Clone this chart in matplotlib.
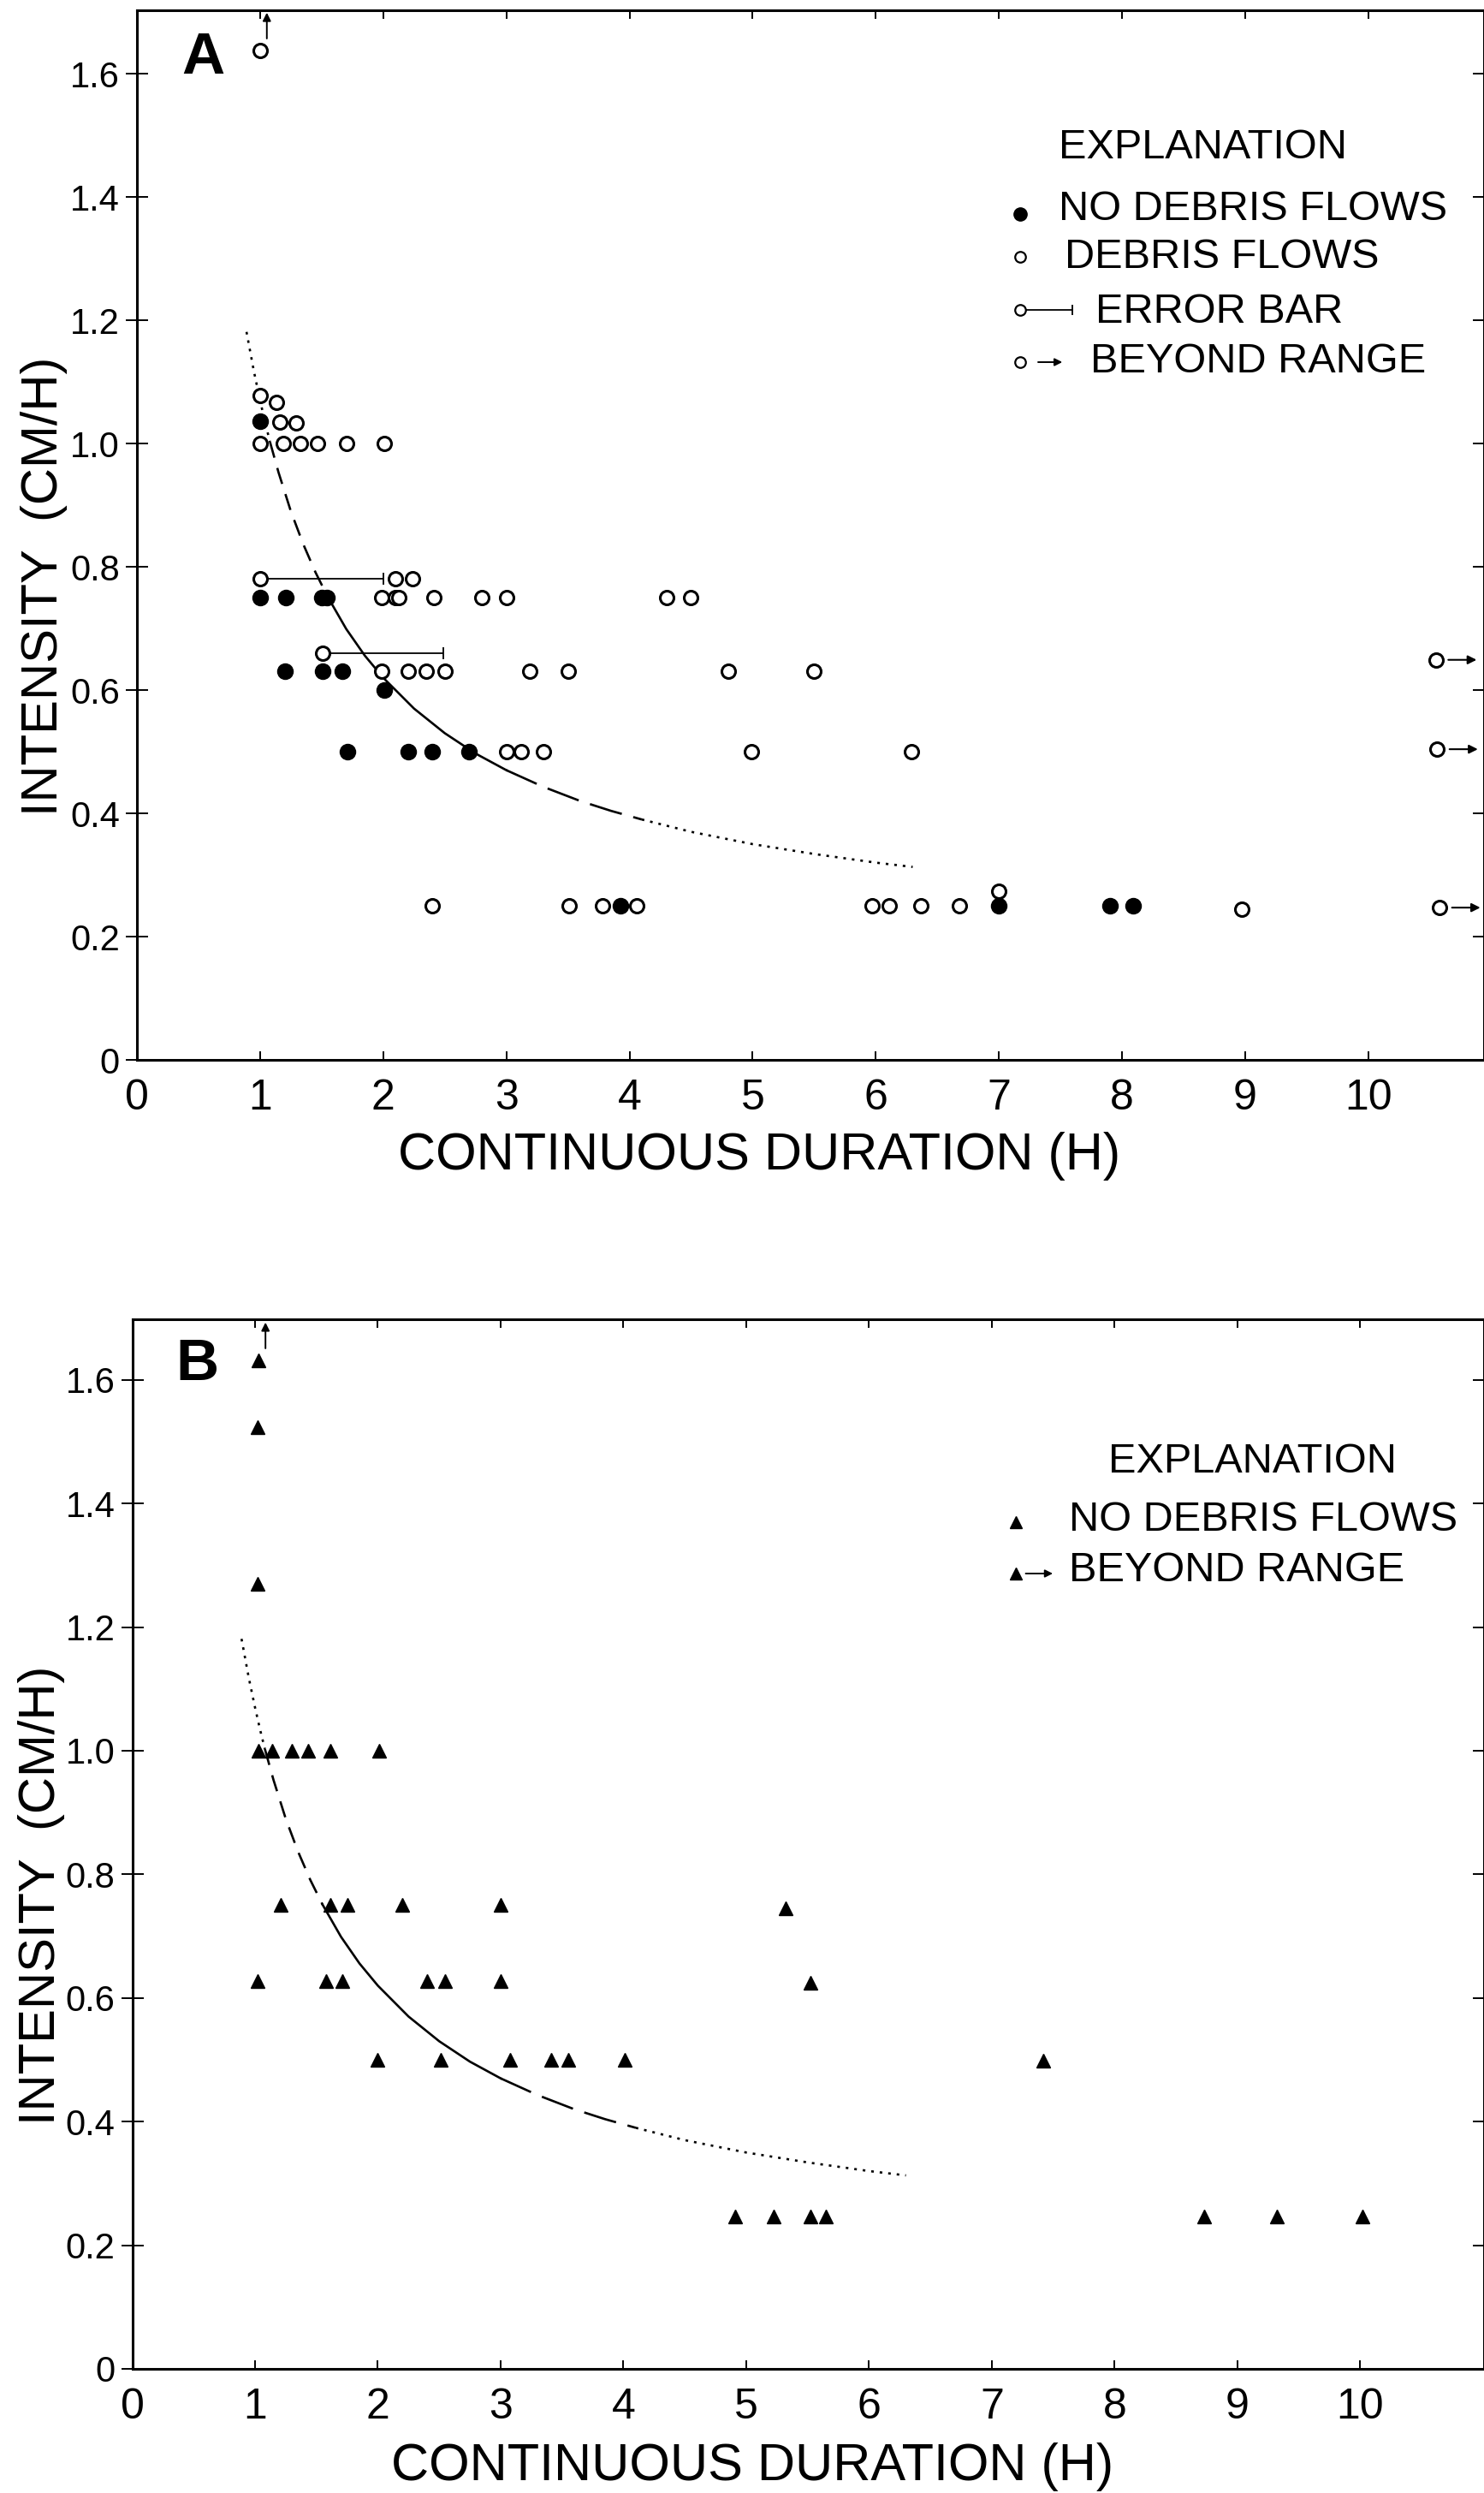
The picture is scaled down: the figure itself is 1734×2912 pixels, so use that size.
import matplotlib
matplotlib.use('Agg')
import matplotlib.pyplot as plt

plt.rcParams['font.family'] = ['Liberation Sans', 'DejaVu Sans']
plt.rcParams['lines.scale_dashes'] = False

# ---- panel A: storms with / without debris flows ----
flow_x = [1.0, 1.0, 1.13, 1.16, 1.29,
          1.0, 1.19, 1.33, 1.47, 1.70, 2.01,
          1.0, 2.10, 2.24,
          1.99, 2.10, 2.13, 2.41, 2.80, 3.0, 4.30, 4.50,
          1.51,
          1.99, 2.20, 2.35, 2.50, 3.19, 3.50, 4.80, 5.50,
          3.0, 3.12, 3.30, 4.99, 6.29,
          2.40, 3.51, 3.78, 4.06, 5.97, 6.11, 6.37, 6.68, 8.97, 7.0]
flow_y = [1.637, 1.078, 1.066, 1.035, 1.034,
          1.0, 1.0, 1.0, 1.0, 1.0, 1.0,
          0.78, 0.78, 0.78,
          0.75, 0.75, 0.75, 0.75, 0.75, 0.75, 0.75, 0.75,
          0.66,
          0.63, 0.63, 0.63, 0.63, 0.63, 0.63, 0.63, 0.63,
          0.50, 0.50, 0.50, 0.50, 0.50,
          0.25, 0.25, 0.25, 0.25, 0.25, 0.25, 0.25, 0.25, 0.245, 0.274]

noflow_x = [1.0, 1.0, 1.21, 1.50, 1.54, 1.20, 1.505, 1.67, 2.01,
            1.71, 2.20, 2.40, 2.70, 3.93, 7.0, 7.90, 8.09]
noflow_y = [1.036, 0.75, 0.75, 0.75, 0.75, 0.63, 0.63, 0.63, 0.60,
            0.50, 0.50, 0.50, 0.50, 0.25, 0.25, 0.25, 0.25]

err_x = [1.0, 1.51]
err_y = [0.78, 0.66]
err_end = [2.0, 2.49]

beyond_a_x = [10.55, 10.56, 10.58]
beyond_a_y = [0.649, 0.504, 0.247]
offtop_a_x = [1.0]
offtop_a_y = [1.637]

# ---- panel B: storms without debris flows ----
storm_x = [1.03, 1.02, 1.02,
           1.03, 1.14, 1.30, 1.43, 1.61, 2.01,
           1.21, 1.61, 1.75, 2.20, 3.0, 5.32,
           1.02, 1.58, 1.71, 2.40, 2.55, 3.0, 5.52,
           2.0, 2.51, 3.08, 3.41, 3.55, 4.01, 7.42,
           4.91, 5.22, 5.52, 5.65, 8.73, 9.32, 10.02]
storm_y = [1.631, 1.523, 1.270,
           1.0, 1.0, 1.0, 1.0, 1.0, 1.0,
           0.75, 0.75, 0.75, 0.75, 0.75, 0.745,
           0.627, 0.627, 0.627, 0.627, 0.627, 0.627, 0.625,
           0.50, 0.50, 0.50, 0.50, 0.50, 0.50, 0.498,
           0.247, 0.247, 0.247, 0.247, 0.247, 0.247, 0.247]
offtop_b_x = [1.03]
offtop_b_y = [1.631]

# threshold curve (same in both panels)
curve_d = [0.89, 0.95, 1.0, 1.04, 1.08, 1.15, 1.25, 1.35, 1.45, 1.55, 1.7, 1.85,
           2.0, 2.25, 2.5, 2.75, 3.0, 3.3, 3.6, 3.85, 4.1, 4.5, 5.0, 5.5, 6.0, 6.3]
curve_i = [1.181, 1.117, 1.07, 1.035, 1.003, 0.953, 0.89, 0.837, 0.791, 0.751, 0.699, 0.656,
           0.62, 0.57, 0.53, 0.497, 0.47, 0.443, 0.42, 0.404, 0.39, 0.37, 0.35, 0.334, 0.32, 0.313]
# (first index, last index, dash pattern)
curve_parts = [(0, 4, (2.2, 5)), (4, 9, (14, 9)), (9, 16, None), (16, 20, (28, 10)), (20, 25, (2.2, 5))]

y_ticks = [0, 0.2, 0.4, 0.6, 0.8, 1.0, 1.2, 1.4, 1.6]
y_labels = ['0', '0.2', '0.4', '0.6', '0.8', '1.0', '1.2', '1.4', '1.6']
x_ticks = list(range(0, 11))


def setup(ax, xmax, ymax):
    ax.set_xlim(0, xmax)
    ax.set_ylim(0, ymax)
    ax.set_xticks(x_ticks)
    ax.set_xticklabels([str(t) for t in x_ticks])
    ax.set_yticks(y_ticks)
    ax.set_yticklabels(y_labels)
    for s in ax.spines.values():
        s.set_linewidth(2.2)
    ax.tick_params(axis='x', direction='in', length=7, width=1.4, labelsize=36, pad=16, top=True)
    ax.tick_params(axis='y', direction='inout', length=19, width=1.4, labelsize=30, pad=5, right=True)
    ax.set_xlabel('CONTINUOUS DURATION (H)', fontsize=44)
    ax.set_ylabel('INTENSITY  (CM/H)', fontsize=43)


def draw_curve(ax):
    for a, b, dash in curve_parts:
        line, = ax.plot(curve_d[a:b + 1], curve_i[a:b + 1], color='black', lw=1.9, zorder=2)
        if dash is not None:
            line.set_dashes(dash)


def up_arrows(ax, xs, ys):
    for x, y in zip(xs, ys):
        ax.annotate('', xy=(x + 0.055, y + 0.062), xytext=(x + 0.055, y + 0.02),
                    arrowprops=dict(arrowstyle='-|>', color='black', lw=1.4,
                                    mutation_scale=14, shrinkA=0, shrinkB=0))


fig = plt.figure(figsize=(17.34, 29.12), dpi=100)

# ---------------- A ----------------
axA = fig.add_axes([160 / 1734, 1 - 1238 / 2912, 1574 / 1734, 1226.5 / 2912])
setup(axA, 10.94, 1.7035)
draw_curve(axA)
axA.errorbar(err_x, err_y, xerr=[[0] * len(err_x), [e - x for e, x in zip(err_end, err_x)]],
             fmt='none', ecolor='black', elinewidth=1.3, capsize=5, capthick=1.3, zorder=2)
axA.plot(flow_x, flow_y, 'o', ms=11.5, mfc='white', mec='black', mew=2.2, zorder=3)
axA.plot(noflow_x, noflow_y, 'o', ms=13, color='black', zorder=4)
axA.plot(beyond_a_x, beyond_a_y, 'o', ms=11.5, mfc='white', mec='black', mew=2.2, zorder=3)
for x, y in zip(beyond_a_x, beyond_a_y):
    axA.annotate('', xy=(x + 0.33, y), xytext=(x + 0.1, y),
                 arrowprops=dict(arrowstyle='-|>', color='black', lw=1.5,
                                 mutation_scale=15, shrinkA=0, shrinkB=0))
up_arrows(axA, offtop_a_x, offtop_a_y)
axA.xaxis.set_label_coords(0.462, -0.0685)
axA.yaxis.set_label_coords(-0.0515, 0.451)
axA.text(0.0334, 0.9393, 'A', transform=axA.transAxes, fontsize=50, fontweight='bold', va='baseline')

# explanation A
tA = axA.transAxes
axA.text(0.6843, 0.8585, 'EXPLANATION', transform=tA, fontsize=35, va='baseline')
axA.text(0.6845, 0.7998, 'NO DEBRIS FLOWS', transform=tA, fontsize=35, va='baseline')
axA.text(0.6884, 0.7542, 'DEBRIS FLOWS', transform=tA, fontsize=35, va='baseline')
axA.text(0.7116, 0.7020, 'ERROR BAR', transform=tA, fontsize=35, va='baseline')
axA.text(0.7078, 0.6547, 'BEYOND RANGE', transform=tA, fontsize=35, va='baseline')
axA.plot([0.6557], [0.8055], 'o', ms=11, color='black', transform=tA)
axA.plot([0.6557], [0.7648], 'o', ms=9, mfc='white', mec='black', mew=1.6, transform=tA)
axA.plot([0.6557, 0.6947], [0.7145, 0.7145], color='black', lw=1.3, transform=tA, zorder=2)
axA.plot([0.6947], [0.7145], '|', ms=8, mew=1.3, color='black', transform=tA)
axA.plot([0.6557], [0.7145], 'o', ms=9, mfc='white', mec='black', mew=1.6, transform=tA, zorder=3)
axA.plot([0.6557], [0.6645], 'o', ms=9, mfc='white', mec='black', mew=1.6, transform=tA)
axA.annotate('', xy=(0.687, 0.6645), xytext=(0.669, 0.6645), xycoords='axes fraction',
             arrowprops=dict(arrowstyle='-|>', color='black', lw=1.4,
                             mutation_scale=13, shrinkA=0, shrinkB=0))

# ---------------- B ----------------
axB = fig.add_axes([154.5 / 1734, 1 - 2767 / 2912, 1579.5 / 1734, 1225.6 / 2912])
setup(axB, 11.007, 1.6975)
draw_curve(axB)
axB.plot(storm_x, storm_y, '^', ms=11, color='black', zorder=3)
up_arrows(axB, offtop_b_x, offtop_b_y)
axB.xaxis.set_label_coords(0.459, -0.070)
axB.yaxis.set_label_coords(-0.0495, 0.451)
axB.text(0.0325, 0.9428, 'B', transform=axB.transAxes, fontsize=50, fontweight='bold', va='baseline')

tB = axB.transAxes
axB.text(0.722, 0.8543, 'EXPLANATION', transform=tB, fontsize=35, va='baseline')
axB.text(0.6928, 0.7988, 'NO DEBRIS FLOWS', transform=tB, fontsize=35, va='baseline')
axB.text(0.6928, 0.7507, 'BEYOND RANGE', transform=tB, fontsize=35, va='baseline')
axB.plot([0.6537], [0.807], '^', ms=10, color='black', transform=tB)
axB.plot([0.6537], [0.758], '^', ms=10, color='black', transform=tB)
axB.annotate('', xy=(0.681, 0.758), xytext=(0.661, 0.758), xycoords='axes fraction',
             arrowprops=dict(arrowstyle='-|>', color='black', lw=1.4,
                             mutation_scale=13, shrinkA=0, shrinkB=0))

fig.savefig('out.png', dpi=100)
